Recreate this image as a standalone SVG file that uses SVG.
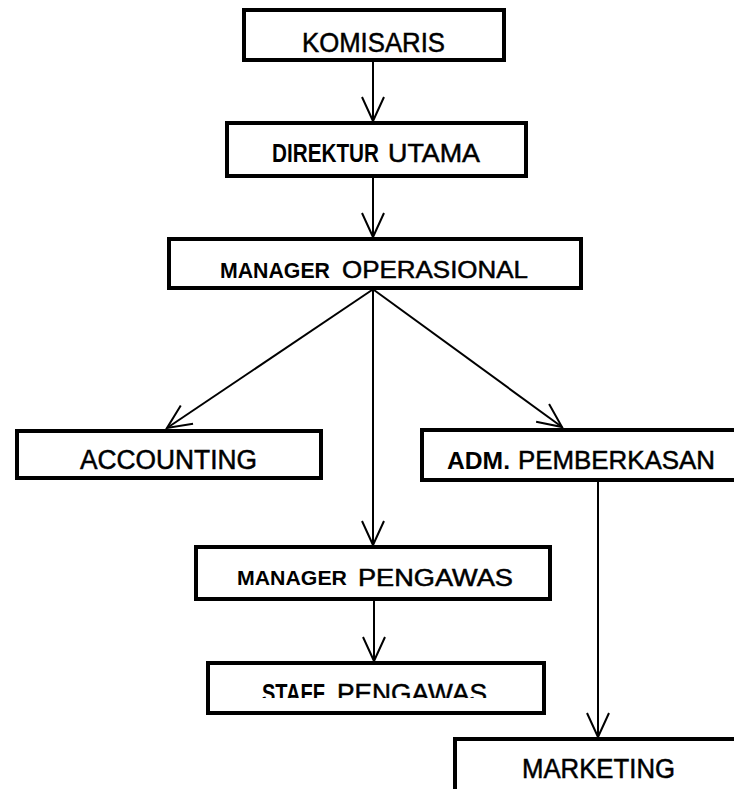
<svg xmlns="http://www.w3.org/2000/svg" width="734" height="789" viewBox="0 0 734 789">
<style>
.box{fill:#fff;stroke:#000;stroke-width:4;}
.t{font-family:"Liberation Sans",Arial,sans-serif;fill:#000;stroke:#000;stroke-width:0.5;}
.b{font-weight:bold;stroke-width:0;}
.c{stroke:#000;stroke-width:2;fill:none;}
</style>
<defs>
<marker id="arr" markerUnits="userSpaceOnUse" markerWidth="30" markerHeight="30" viewBox="-28 -15 30 30" refX="0" refY="0" orient="auto" overflow="visible">
<path d="M -24 -11 L 0 0 L -24 11" fill="none" stroke="#000" stroke-width="2"/>
</marker>
<clipPath id="staffclip"><rect x="208" y="663" width="336" height="35"/></clipPath>
</defs>
<rect width="734" height="789" fill="#fff"/>
<g id="connectors">
<line class="c" x1="373" y1="62" x2="373" y2="121" marker-end="url(#arr)"/>
<line class="c" x1="373" y1="178" x2="373" y2="237" marker-end="url(#arr)"/>
<line class="c" x1="372" y1="290" x2="167" y2="428" marker-end="url(#arr)"/>
<line class="c" x1="374" y1="290" x2="562" y2="427" marker-end="url(#arr)"/>
<line class="c" x1="373" y1="290" x2="373" y2="545" marker-end="url(#arr)"/>
<line class="c" x1="374" y1="601" x2="374" y2="661" marker-end="url(#arr)"/>
<line class="c" x1="598" y1="482" x2="598" y2="737" marker-end="url(#arr)"/>
</g>
<g id="komisaris">
<rect class="box" x="244" y="10" width="260" height="50"/>
<text class="t" x="302" y="52" font-size="28" textLength="143" lengthAdjust="spacingAndGlyphs">KOMISARIS</text>
</g>
<g id="direktur-utama">
<rect class="box" x="227" y="123" width="299" height="53"/>
<text class="t b" transform="translate(272 162) scale(1 1.2)" x="0" y="0" font-size="21" textLength="107" lengthAdjust="spacingAndGlyphs">DIREKTUR</text>
<text class="t" x="388" y="162" font-size="26" textLength="92" lengthAdjust="spacingAndGlyphs">UTAMA</text>
</g>
<g id="manager-operasional">
<rect class="box" x="169" y="239" width="412" height="49"/>
<text class="t b" x="220" y="278" font-size="22" textLength="110" lengthAdjust="spacingAndGlyphs">MANAGER</text>
<text class="t" x="342" y="278" font-size="24" textLength="186" lengthAdjust="spacingAndGlyphs">OPERASIONAL</text>
</g>
<g id="accounting">
<rect class="box" x="17" y="431" width="304" height="47"/>
<text class="t" x="80" y="469" font-size="27" textLength="177" lengthAdjust="spacingAndGlyphs">ACCOUNTING</text>
</g>
<g id="adm-pemberkasan">
<rect class="box" x="422" y="430" width="330" height="50"/>
<text class="t b" x="447" y="469" font-size="24" textLength="63" lengthAdjust="spacingAndGlyphs">ADM.</text>
<text class="t" x="518" y="469" font-size="26" textLength="197" lengthAdjust="spacingAndGlyphs">PEMBERKASAN</text>
</g>
<g id="manager-pengawas">
<rect class="box" x="196" y="547" width="354" height="52"/>
<text class="t b" x="237" y="585" font-size="21" textLength="110" lengthAdjust="spacingAndGlyphs">MANAGER</text>
<text class="t" x="358" y="586" font-size="23" textLength="155" lengthAdjust="spacingAndGlyphs">PENGAWAS</text>
</g>
<g id="staff-pengawas">
<rect class="box" x="208" y="663" width="336" height="50"/>
<g clip-path="url(#staffclip)">
<text class="t b" transform="translate(262 702) scale(1 1.2)" x="0" y="0" font-size="21" textLength="63" lengthAdjust="spacingAndGlyphs">STAFF</text>
<text class="t" x="337" y="702" font-size="26" textLength="150" lengthAdjust="spacingAndGlyphs">PENGAWAS</text>
</g>
</g>
<g id="marketing">
<rect class="box" x="455" y="739" width="300" height="80"/>
<text class="t" x="522" y="778" font-size="27" textLength="153" lengthAdjust="spacingAndGlyphs">MARKETING</text>
</g>
</svg>
